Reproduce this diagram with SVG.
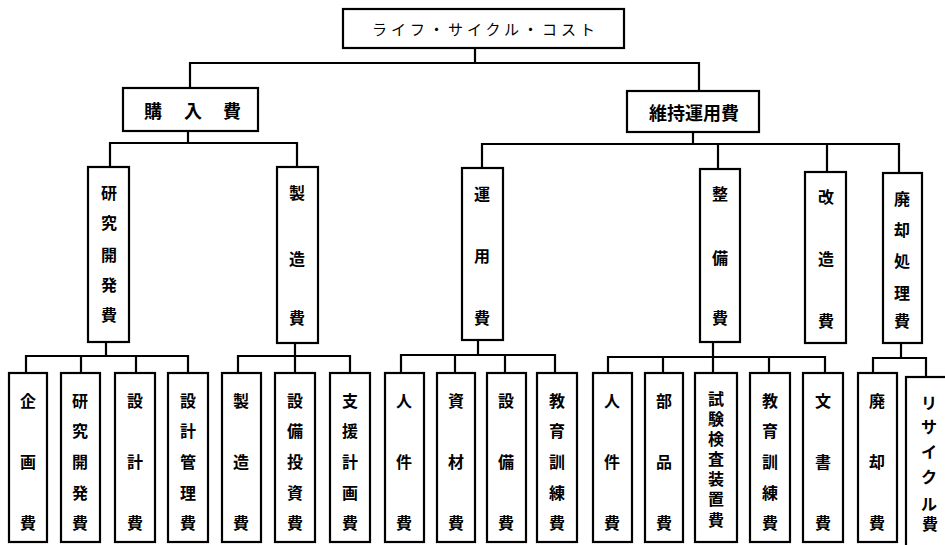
<svg xmlns="http://www.w3.org/2000/svg" width="945" height="545" viewBox="0 0 945 545">
<style>
.box{fill:#fff;stroke:#000;stroke-width:2.2}
.ln{fill:none;stroke:#000;stroke-width:2.2;stroke-linecap:square}
.t{font-family:"Noto Sans CJK JP","Noto Sans",sans-serif;font-weight:bold;font-size:16px;fill:#000;text-anchor:middle;dominant-baseline:central}
.tt{font-family:"Noto Sans CJK JP","Noto Sans",sans-serif;font-weight:normal;font-size:15px;fill:#000;dominant-baseline:central}
.h{font-size:18px}
</style>
<rect width="945" height="545" fill="#fff"/>
<g id="connectors">
<path class="ln" d="M475,48V63M190,63H699M190,63V88M699,63V91"/>
<path class="ln" d="M188,131V143M110,143H297M110,143V167M297,143V167"/>
<path class="ln" d="M693,132V144M482,144H899M482,144V168M718,144V169M827,144V172M899,144V173"/>
<path class="ln" d="M106,342V356M26,356H188M26,356V373M81,356V373M136,356V373M188,356V373"/>
<path class="ln" d="M295,343V373M238,356H350M238,356V373M350,356V373"/>
<path class="ln" d="M478,340V355M401,355H555M401,355V373M455,355V373M505,355V373M555,355V373"/>
<path class="ln" d="M713,342V373M608,357H825M608,357V373M663,357V373M769,357V373M825,357V373"/>
<path class="ln" d="M901,343V358M873,358H926M873,358V373M926,358V377"/>
</g>
<g id="lcc"><rect class="box" x="343" y="9" width="281" height="39"/><text class="tt" x="372" y="28" textLength="223" lengthAdjust="spacing">ライフ・サイクル・コスト</text></g>
<g id="kounyu"><rect class="box" x="123" y="88" width="135" height="43"/><text class="t h" x="153 193 232" y="110">購入費</text></g>
<g id="iji"><rect class="box" x="627" y="91" width="132" height="41"/><text class="t h" x="694" y="112">維持運用費</text></g>

<g id="kenkyu"><rect class="box" x="88" y="167" width="41" height="175"/><text class="t" x="109 109 109 109 109" y="192 222 254 284 314">研究開発費</text></g>
<g id="seizo"><rect class="box" x="277" y="167" width="41" height="176"/><text class="t" x="297 297 297" y="192 258 317">製造費</text></g>
<g id="unyo"><rect class="box" x="462" y="168" width="41" height="172"/><text class="t" x="482 482 482" y="193 255 317">運用費</text></g>
<g id="seibi"><rect class="box" x="700" y="169" width="40" height="173"/><text class="t" x="720 720 720" y="193 257 317">整備費</text></g>
<g id="kaizo"><rect class="box" x="805" y="172" width="41" height="171"/><text class="t" x="826 826 826" y="196 258 320">改造費</text></g>
<g id="haikyaku"><rect class="box" x="883" y="173" width="39" height="170"/><text class="t" x="902 902 902 902 902" y="198 229 260 292 320">廃却処理費</text></g>

<g id="kikaku"><rect class="box" x="9" y="373" width="38" height="169"/><text class="t" x="28 28 28" y="400 461 522">企画費</text></g>
<g id="kenkyu2"><rect class="box" x="61" y="373" width="39" height="169"/><text class="t" x="80 80 80 80 80" y="400 430 461 492 522">研究開発費</text></g>
<g id="sekkei"><rect class="box" x="115" y="373" width="40" height="169"/><text class="t" x="135 135 135" y="400 461 522">設計費</text></g>
<g id="sekkeikanri"><rect class="box" x="168" y="373" width="40" height="169"/><text class="t" x="188 188 188 188 188" y="400 430 461 492 522">設計管理費</text></g>
<g id="seizo2"><rect class="box" x="222" y="373" width="39" height="169"/><text class="t" x="241 241 241" y="400 461 522">製造費</text></g>
<g id="setsubitoushi"><rect class="box" x="275" y="373" width="40" height="169"/><text class="t" x="295 295 295 295 295" y="400 430 461 492 522">設備投資費</text></g>
<g id="shien"><rect class="box" x="330" y="373" width="40" height="169"/><text class="t" x="350 350 350 350 350" y="400 430 461 492 522">支援計画費</text></g>
<g id="jinken1"><rect class="box" x="385" y="373" width="39" height="169"/><text class="t" x="404 404 404" y="400 461 522">人件費</text></g>
<g id="shizai"><rect class="box" x="437" y="373" width="38" height="169"/><text class="t" x="456 456 456" y="400 461 522">資材費</text></g>
<g id="setsubi"><rect class="box" x="487" y="373" width="39" height="169"/><text class="t" x="506 506 506" y="400 461 522">設備費</text></g>
<g id="kyoiku1"><rect class="box" x="537" y="373" width="40" height="169"/><text class="t" x="557 557 557 557 557" y="400 430 461 492 522">教育訓練費</text></g>
<g id="jinken2"><rect class="box" x="593" y="373" width="39" height="169"/><text class="t" x="612 612 612" y="400 461 522">人件費</text></g>
<g id="buhin"><rect class="box" x="645" y="373" width="38" height="169"/><text class="t" x="664 664 664" y="400 461 522">部品費</text></g>
<g id="shiken"><rect class="box" x="695" y="373" width="42" height="169"/><text class="t" x="716 716 716 716 716 716 716" y="398 418 438 458 478 498 519">試験検査装置費</text></g>
<g id="kyoiku2"><rect class="box" x="750" y="373" width="40" height="169"/><text class="t" x="770 770 770 770 770" y="400 430 461 492 522">教育訓練費</text></g>
<g id="bunsho"><rect class="box" x="803" y="373" width="40" height="169"/><text class="t" x="823 823 823" y="400 461 522">文書費</text></g>
<g id="haikyaku2"><rect class="box" x="858" y="373" width="39" height="169"/><text class="t" x="877 877 877" y="400 461 522">廃却費</text></g>
<g id="recycle"><rect class="box" x="906" y="377" width="46" height="170"/><text class="t" x="929 929 929 929 929 930" y="402 426 451 476 503 523">リサイクル費</text></g>
</svg>
